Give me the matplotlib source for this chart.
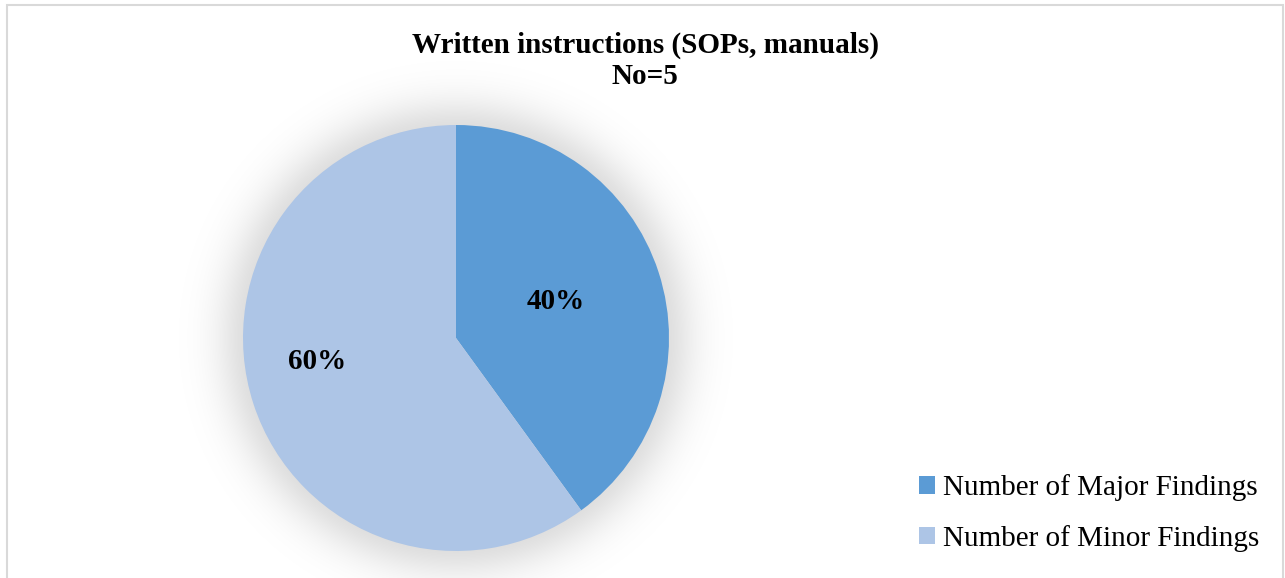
import numpy as np
import matplotlib
matplotlib.use("Agg")
import matplotlib.pyplot as plt
from matplotlib.patches import Rectangle, Patch

# Data
categories = ["Number of Major Findings", "Number of Minor Findings"]
shares = [40, 60]
colors = ["#5b9bd5", "#adc5e6"]
title_text = "Written instructions (SOPs, manuals)\nNo=5"

W, H, DPI = 1285, 578, 100
plt.rcParams["font.family"] = ["Liberation Serif", "DejaVu Serif"]

fig = plt.figure(figsize=(W / DPI, H / DPI), dpi=DPI)
fig.patch.set_facecolor("white")

# Light gray chart-area border
fig.add_artist(Rectangle((6.5 / W, -0.05), (1283 - 6.5) / W, 1.05 - 5.5 / H,
                         transform=fig.transFigure, fill=False,
                         edgecolor="#d9d9d9", linewidth=1.5))

# Pie axes: centre (456, 338) px, radius 213 px
cx, cy, r = 456, 338, 213
ext = 1.35
ax = fig.add_axes([(cx - r * ext) / W, (H - cy - r * ext) / H,
                   2 * r * ext / W, 2 * r * ext / H])

# Soft glow behind the pie
n = 500
g = np.linspace(-ext, ext, n)
xx, yy = np.meshgrid(g, g)
rr = np.hypot(xx, yy)
d = np.clip((rr - 0.99) / 0.22, 0, None)
alpha = 0.13 * np.exp(-2.0 * d ** 1.6)
img = np.zeros((n, n, 4))
img[..., 3] = alpha
ax.imshow(img, extent=(-ext, ext, -ext, ext), origin="lower",
          interpolation="bilinear", zorder=0)

wedges, texts, autotexts = ax.pie(
    shares, colors=colors, startangle=90, counterclock=False, radius=1,
    autopct="%d%%", pctdistance=0.6,
    textprops=dict(fontsize=21, fontweight="bold", color="black"),
    wedgeprops=dict(linewidth=0))
for w in wedges:
    w.set_zorder(2)
# data label placement inside each slice
label_pos = [(0.47, 0.17), (-0.65, -0.11)]
for t, p in zip(autotexts, label_pos):
    t.set_zorder(3)
    t.set_position(p)

ax.set_xlim(-ext, ext)
ax.set_ylim(-ext, ext)
ax.set_aspect("equal")
ax.axis("off")

fig.text(645 / W, 1 - 61 / H, title_text, ha="center", va="center",
         fontsize=21, fontweight="bold", linespacing=1.2)

handles = [Patch(facecolor=c, edgecolor="none") for c in colors]
fig.legend(handles, categories, loc="center left",
           bbox_to_anchor=(904 / W, 1 - 513 / H), frameon=False,
           fontsize=21, handlelength=0.55, handleheight=0.55,
           handletextpad=0.3, labelspacing=0.8, borderpad=0)

fig.savefig("out.png", dpi=DPI, facecolor="white")
